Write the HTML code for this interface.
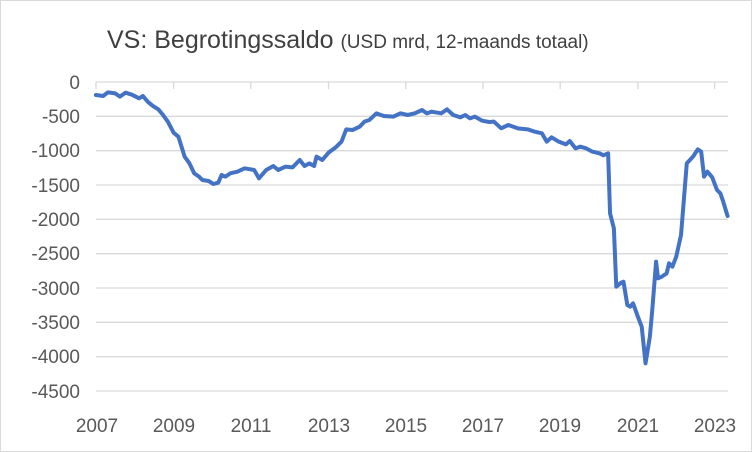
<!DOCTYPE html>
<html><head><meta charset="utf-8"><style>
html,body{margin:0;padding:0;background:#fff;}
svg{display:block;font-family:"Liberation Sans",sans-serif;}
</style></head><body>
<svg width="752" height="452" viewBox="0 0 752 452" xmlns="http://www.w3.org/2000/svg">
<rect x="0.5" y="0.5" width="751" height="451" fill="#fff" stroke="#d9d9d9"/>
<text x="107" y="48" font-size="25" fill="#404040">VS: Begrotingssaldo <tspan font-size="19">(USD mrd, 12-maands totaal)</tspan></text>
<g stroke="#d9d9d9" stroke-width="1.3">
<line x1="96" x2="728" y1="82" y2="82"/><line x1="96" x2="728" y1="116.3" y2="116.3"/>
<line x1="96" x2="728" y1="150.7" y2="150.7"/><line x1="96" x2="728" y1="185" y2="185"/>
<line x1="96" x2="728" y1="219.3" y2="219.3"/><line x1="96" x2="728" y1="253.7" y2="253.7"/>
<line x1="96" x2="728" y1="288" y2="288"/><line x1="96" x2="728" y1="322.3" y2="322.3"/>
<line x1="96" x2="728" y1="356.7" y2="356.7"/><line x1="96" x2="728" y1="391" y2="391"/>
<line x1="96" x2="96" y1="82" y2="89"/><line x1="173.6" x2="173.6" y1="82" y2="89"/>
<line x1="250.8" x2="250.8" y1="82" y2="89"/><line x1="328.5" x2="328.5" y1="82" y2="89"/>
<line x1="405.8" x2="405.8" y1="82" y2="89"/><line x1="483" x2="483" y1="82" y2="89"/>
<line x1="560.2" x2="560.2" y1="82" y2="89"/><line x1="637.9" x2="637.9" y1="82" y2="89"/>
<line x1="714.6" x2="714.6" y1="82" y2="89"/>
</g>
<g font-size="19" fill="#595959" text-anchor="end">
<text x="80" y="89">0</text><text x="80" y="123">-500</text><text x="80" y="157">-1000</text>
<text x="80" y="192">-1500</text><text x="80" y="226">-2000</text><text x="80" y="260">-2500</text>
<text x="80" y="295">-3000</text><text x="80" y="329">-3500</text><text x="80" y="363">-4000</text>
<text x="80" y="398">-4500</text>
</g>
<g font-size="19" fill="#595959" text-anchor="middle">
<text x="97" y="432">2007</text><text x="174" y="432">2009</text><text x="251" y="432">2011</text>
<text x="329" y="432">2013</text><text x="406" y="432">2015</text><text x="483" y="432">2017</text>
<text x="560" y="432">2019</text><text x="638" y="432">2021</text><text x="715" y="432">2023</text>
</g>
<g transform="translate(0,60) scale(0.4796,0.33333)">
<polyline vector-effect="non-scaling-stroke" fill="none" stroke="#4472c4" stroke-width="4" stroke-linejoin="round" stroke-linecap="round"
points="200,105 215,108 225,97 240,100 250,110 262,98 275,104 290,115 298,108 308,125 318,137 330,148 340,165 350,185 362,218 372,230 385,290 395,310 405,340 415,350 422,360 435,363 445,372 455,368 462,345 470,350 480,340 495,335 510,325 530,330 540,355 555,330 570,318 580,330 595,320 610,322 625,300 635,318 645,310 655,318 660,290 672,300 685,278 700,262 712,245 722,208 735,210 750,200 760,185 770,180 785,160 800,168 820,170 835,160 850,165 865,160 880,150 890,160 900,155 920,160 932,148 945,165 960,172 970,165 980,175 990,170 1005,182 1020,186 1030,185 1045,205 1060,195 1080,205 1100,208 1115,215 1130,220 1140,245 1150,232 1165,245 1180,253 1188,243 1200,265 1210,260 1222,265 1235,275 1250,280 1258,286 1268,280 1272,460 1280,505 1285,680 1295,668 1300,665 1308,735 1314,740 1320,730 1330,770 1338,800 1346,910 1355,830 1360,750 1368,605 1372,655 1380,650 1390,640 1395,610 1402,620 1410,590 1420,525 1432,310 1445,290 1455,268 1462,275 1468,350 1475,335 1485,352 1495,390 1502,400 1508,425 1517,468"/>
</g>
</svg>
</body></html>
